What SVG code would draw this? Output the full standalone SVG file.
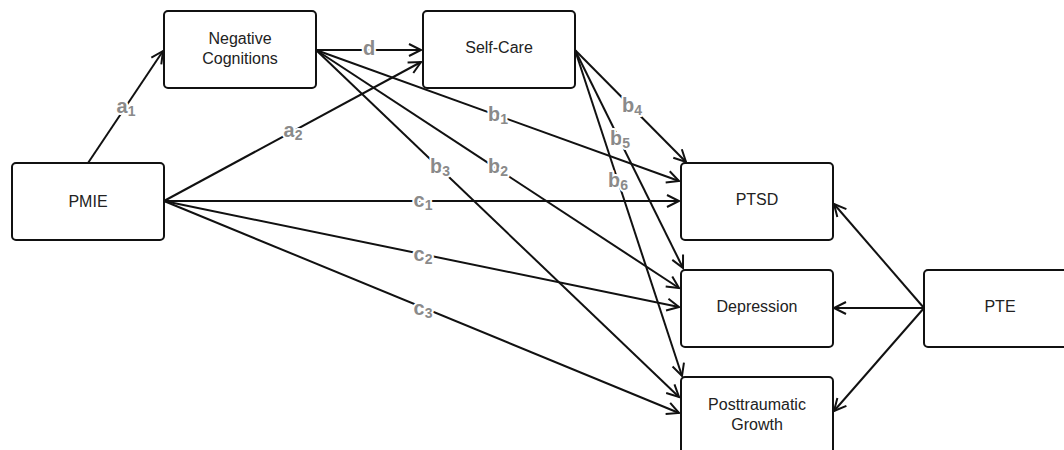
<svg xmlns="http://www.w3.org/2000/svg" width="1064" height="450" viewBox="0 0 1064 450">
<style>
.box{fill:#fff;stroke:#111;stroke-width:2}
.t{font-family:"Liberation Sans",Arial,sans-serif;font-size:16px;fill:#222;text-anchor:middle}
.e{stroke:#111;stroke-width:2;fill:none;marker-end:url(#arr)}
.lb{font-family:"Liberation Sans",Arial,sans-serif;font-size:20px;font-weight:bold;fill:#8a8a8a;text-anchor:middle;stroke:#fff;stroke-width:4;paint-order:stroke;stroke-linejoin:round}
.sub{font-size:14px}
</style>
<defs>
<marker id="arr" markerUnits="userSpaceOnUse" markerWidth="16" markerHeight="16" refX="13" refY="7" orient="auto" overflow="visible">
<path d="M1,1 L13,7 L1,13" fill="none" stroke="#111" stroke-width="2"/>
</marker>
</defs>
<rect width="1064" height="450" fill="#fff"/>
<g id="connectors">
<line class="e" x1="88" y1="163" x2="163" y2="51"/>
<line class="e" x1="164" y1="201" x2="421" y2="62"/>
<line class="e" x1="316" y1="50" x2="421" y2="50"/>
<line class="e" x1="316" y1="50" x2="679" y2="181"/>
<line class="e" x1="316" y1="50" x2="679" y2="288"/>
<line class="e" x1="316" y1="50" x2="679" y2="397"/>
<line class="e" x1="164" y1="201" x2="679" y2="201"/>
<line class="e" x1="164" y1="201" x2="679" y2="307"/>
<line class="e" x1="164" y1="201" x2="679" y2="413"/>
<line class="e" x1="575" y1="50" x2="686" y2="162"/>
<line class="e" x1="575" y1="50" x2="683" y2="268"/>
<line class="e" x1="575" y1="50" x2="682" y2="376"/>
<line class="e" x1="924" y1="308" x2="834" y2="204"/>
<line class="e" x1="924" y1="308" x2="834" y2="308"/>
<line class="e" x1="924" y1="308" x2="834" y2="411"/>
</g>
<g id="labels">
<text class="lb" x="126" y="113">a<tspan class="sub" dy="3">1</tspan></text>
<text class="lb" x="293" y="137">a<tspan class="sub" dy="3">2</tspan></text>
<text class="lb" x="369" y="55">d</text>
<text class="lb" x="498" y="121">b<tspan class="sub" dy="3">1</tspan></text>
<text class="lb" x="498" y="173">b<tspan class="sub" dy="3">2</tspan></text>
<text class="lb" x="440" y="173">b<tspan class="sub" dy="3">3</tspan></text>
<text class="lb" x="632" y="112">b<tspan class="sub" dy="3">4</tspan></text>
<text class="lb" x="620" y="145">b<tspan class="sub" dy="3">5</tspan></text>
<text class="lb" x="618" y="187">b<tspan class="sub" dy="3">6</tspan></text>
<text class="lb" x="423" y="207">c<tspan class="sub" dy="3">1</tspan></text>
<text class="lb" x="423" y="261">c<tspan class="sub" dy="3">2</tspan></text>
<text class="lb" x="423" y="315">c<tspan class="sub" dy="3">3</tspan></text>
</g>
<g id="PMIE"><rect class="box" x="12" y="163" width="152" height="77" rx="4"/><text class="t" x="88" y="207">PMIE</text></g>
<g id="NegativeCognitions"><rect class="box" x="164" y="11" width="152" height="77" rx="4"/><text class="t" x="240" y="44">Negative</text><text class="t" x="240" y="64">Cognitions</text></g>
<g id="SelfCare"><rect class="box" x="423" y="11" width="152" height="77" rx="4"/><text class="t" x="499" y="53">Self-Care</text></g>
<g id="PTSD"><rect class="box" x="681" y="163" width="152" height="77" rx="4"/><text class="t" x="757" y="205">PTSD</text></g>
<g id="Depression"><rect class="box" x="681" y="270" width="152" height="77" rx="4"/><text class="t" x="757" y="312">Depression</text></g>
<g id="PosttraumaticGrowth"><rect class="box" x="681" y="377" width="152" height="77" rx="4"/><text class="t" x="757" y="410">Posttraumatic</text><text class="t" x="757" y="430">Growth</text></g>
<g id="PTE"><rect class="box" x="924" y="270" width="152" height="77" rx="4"/><text class="t" x="1000" y="312">PTE</text></g>
</svg>
